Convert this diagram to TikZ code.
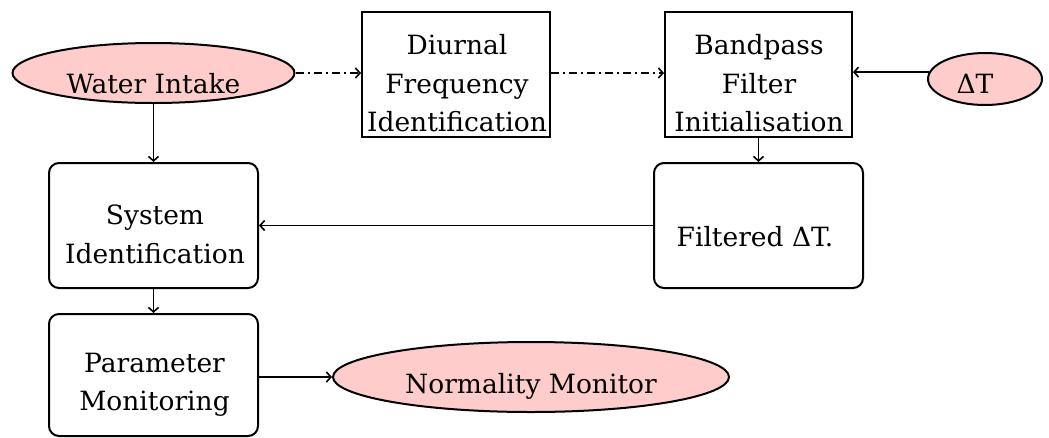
\documentclass[tikz,border=0pt]{standalone}
\usepackage{fontspec}
\setmainfont{DejaVu Serif}
\usetikzlibrary{shapes.geometric,arrows.meta}
\definecolor{pinkfill}{RGB}{255,204,204}
\begin{document}
\begin{tikzpicture}[x=1pt,y=-1pt,
  every node/.style={font=\fontsize{26.5}{38.5}\selectfont},
  sqbox/.style={draw,line width=2pt,rectangle,inner sep=0pt},
  rbox/.style={draw,line width=2pt,rectangle,rounded corners=10pt,inner sep=0pt},
  oval/.style={draw,line width=2pt,ellipse,fill=pinkfill,inner sep=0pt},
  txt/.style={inner sep=0pt,align=center},
  arr/.style={line width=1.8pt,-{Straight Barb[length=4.5pt,width=10pt,line width=1.6pt]}},
  dd/.style={arr,dash pattern=on 8pt off 4pt on 2pt off 4pt}]
\useasboundingbox (0,0) rectangle (1049,437);
% shapes
\node[oval,minimum width=282pt,minimum height=60pt] (wi) at (153.5,73) {};
\node[txt,anchor=base] (wit) at (153.5,93) {Water Intake};
\node[oval,minimum width=114pt,minimum height=52pt] (dt) at (985,79) {};
\node[txt,anchor=base] (dtt) at (975,93) {ΔT};
\node[sqbox,minimum width=188pt,minimum height=125pt] (diur) at (456,74.5) {};
\node[txt] (diurt) at (457,83.6) {Diurnal\\Frequency\\Identification};
\node[sqbox,minimum width=187pt,minimum height=125pt] (band) at (758.5,74.5) {};
\node[txt] (bandt) at (759,83.6) {Bandpass\\Filter\\Initialisation};
\node[rbox,minimum width=209pt,minimum height=125pt] (sys) at (153.5,225.5) {};
\node[txt] (syst) at (155,234.5) {System\\Identification};
\node[rbox,minimum width=209pt,minimum height=125pt] (filt) at (758.5,225.5) {};
\node[txt,anchor=base] (filtt) at (755,246) {Filtered ΔT.};
\node[rbox,minimum width=209pt,minimum height=122pt] (par) at (153.5,375) {};
\node[txt] (part) at (154.5,385) {Parameter\\Monitoring};
\node[oval,minimum width=396pt,minimum height=70pt] (nm) at (531,377) {};
\node[txt,anchor=base] (nmt) at (531,393) {Normality Monitor};
% connectors
\draw[dd] (wi.east) -- (wi.east -| diur.west);
\draw[dd] (diur.east |- wi.east) -- (band.west |- wi.east);
\draw[arr] (dt.173.8) -- (dt.173.8 -| band.east);
\draw[arr] (wi.south) -- (sys.north);
\draw[arr] (band.south) -- (filt.north);
\draw[arr] (filt.west) -- (sys.east);
\draw[arr] (sys.south) -- (par.north);
\draw[arr] (nm.west -| par.east) -- (nm.west);
\end{tikzpicture}
\end{document}
